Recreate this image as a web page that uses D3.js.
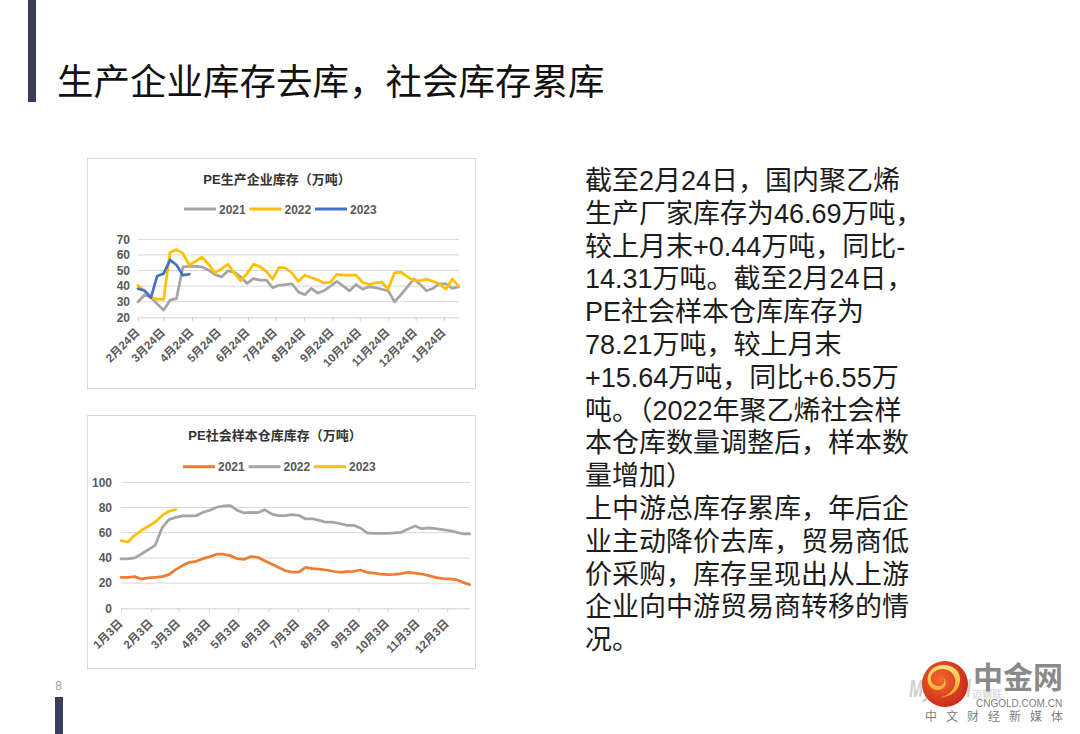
<!DOCTYPE html>
<html>
<head>
<meta charset="utf-8">
<script src="https://cdn.jsdelivr.net/npm/d3@7"></script>
<style>
  body { margin: 0; background: #fff; }
  svg { display: block; }
  text { font-family: "Liberation Sans", "Noto Sans CJK SC", sans-serif; }
</style>
</head>
<body>
<div id="slide"></div>
<script>
// PE生产企业库存 (weekly, from 2月24日)
const INV_START = "2022-02-24";
const INV_END = "2023-02-09";
const INV_2021 = [30, 34.3, 33, 28.5, 24.6, 31, 32, 52.3, 52.7, 52.7, 52.3, 50.2, 47.4, 45.9, 49.7,
                  49, 46, 41.7, 44.8, 43.8, 43.8, 39, 40.5, 41, 41.5, 36.3, 34.5, 38.5, 35.5, 37,
                  40, 43, 40, 37, 41, 38, 39.5, 39, 38, 37, 30, 34.5, 39.5, 44.5, 41, 37, 38.5,
                  41.5, 41.5, 38.5, 39.5];
const INV_2022 = [40.4, 37, 33, 31.6, 31.5, 61.7, 63.4, 61, 53.5, 56, 58.5, 54, 48.5, 51, 54, 48.5,
                  43.5, 48, 54, 52.5, 49.5, 44.5, 52, 51.6, 48.4, 43, 47, 45.5, 44, 42, 42.5, 47.5,
                  47, 47, 47, 42.5, 41, 42, 42.5, 38, 48.5, 49, 46, 43.5, 43.5, 44.5, 43, 41.5,
                  38, 44.5, 40];
const INV_2023 = [38.3, 37.2, 32.5, 46.5, 48, 56.8, 53.5, 47, 47.6];
const INV_Y_TICKS = [20, 30, 40, 50, 60, 70];
const INV_TICK_DATES = ["2022-02-24", "2022-03-24", "2022-04-24", "2022-05-24", "2022-06-24",
                        "2022-07-24", "2022-08-24", "2022-09-24", "2022-10-24", "2022-11-24",
                        "2022-12-24", "2023-01-24"];
const INV_TICK_LABELS = ["2月24日", "3月24日", "4月24日", "5月24日", "6月24日", "7月24日",
                         "8月24日", "9月24日", "10月24日", "11月24日", "12月24日", "1月24日"];

// PE社会样本仓库库存 (weekly, from 1月3日)
const SOC_START = "2021-01-03";
const SOC_END = "2021-12-26";
const SOC_2021 = [24.6, 24.6, 25.1, 23.3, 24.1, 24.6, 25.1, 26.7, 30.7, 33.9, 36.5, 37.3, 39.4, 41,
                  42.9, 42.9, 41.8, 39.4, 38.9, 41, 40.5, 37.8, 35.2, 32.5, 29.9, 28.8, 28.8, 32.5,
                  31.5, 31, 30.4, 29.4, 28.6, 29.1, 29.4, 30.4, 28.6, 28, 27.2, 26.7, 27, 27.5,
                  28.6, 28, 27.2, 25.9, 24.6, 23.5, 23.3, 22.8, 20.6, 18.8];
const SOC_2022 = [39.2, 39.2, 40, 43.1, 46.6, 50, 63.8, 70.4, 72.2, 73.3, 73.3, 73.5, 76.2, 77.8,
                  80.2, 81.2, 81.5, 77.8, 75.7, 76.2, 75.9, 78.3, 74.9, 73.5, 73.5, 74.3, 73.8,
                  70.9, 70.9, 69.8, 68.3, 68.3, 67.2, 65.9, 65.9, 63.8, 59.8, 59.5, 59.5, 59.5,
                  59.8, 60.3, 63, 65.3, 63.2, 63.8, 63.2, 62.4, 61.6, 60.6, 59, 59];
const SOC_2023 = [53.7, 52.6, 57.9, 61.9, 65.1, 68.5, 73.5, 77, 78.3];
const SOC_Y_TICKS = [0, 20, 40, 60, 80, 100];
const SOC_TICK_DATES = ["2021-01-03", "2021-02-03", "2021-03-03", "2021-04-03", "2021-05-03",
                        "2021-06-03", "2021-07-03", "2021-08-03", "2021-09-03", "2021-10-03",
                        "2021-11-03", "2021-12-03"];
const SOC_TICK_LABELS = ["1月3日", "2月3日", "3月3日", "4月3日", "5月3日", "6月3日", "7月3日",
                         "8月3日", "9月3日", "10月3日", "11月3日", "12月3日"];

const SLIDE_TITLE = "生产企业库存去库，社会库存累库";
const BODY_LINES = ["截至2月24日，国内聚乙烯", "生产厂家库存为46.69万吨，", "较上月末+0.44万吨，同比-",
                    "14.31万吨。截至2月24日，", "PE社会样本仓库库存为", "78.21万吨，较上月末",
                    "+15.64万吨，同比+6.55万", "吨。（2022年聚乙烯社会样", "本仓库数量调整后，样本数",
                    "量增加）", "上中游总库存累库，年后企", "业主动降价去库，贸易商低",
                    "价采购，库存呈现出从上游", "企业向中游贸易商转移的情", "况。"];

const GRAY = "#a5a5a5", GOLD = "#ffc000", BLUE = "#4472c4", ORANGE = "#ed7d31";
const NAVY = "#3b3e5b";

var parseDate = d3.timeParse("%Y-%m-%d");

var svg = d3.select("#slide").append("svg")
    .attr("width", 1080)
    .attr("height", 734);

// slide decorations
svg.append("rect").attr("x", 28).attr("y", 0).attr("width", 8).attr("height", 102).attr("fill", NAVY);
svg.append("rect").attr("x", 55).attr("y", 697).attr("width", 8).attr("height", 37).attr("fill", NAVY);
svg.append("text")
    .attr("x", 57).attr("y", 94.5)
    .attr("font-size", 36.5)
    .attr("font-family", "Noto Sans CJK SC")
    .attr("fill", "#111")
    .text(SLIDE_TITLE);
svg.append("text")
    .attr("x", 58.5).attr("y", 690)
    .attr("text-anchor", "middle")
    .attr("font-size", 12)
    .attr("fill", "#a0a0a0")
    .text("8");

// body text
svg.append("g").selectAll("text")
    .data(BODY_LINES)
    .enter()
    .append("text")
      .attr("x", 585)
      .attr("y", function(d, i) { return 190 + i * 32.8; })
      .attr("font-size", 27)
      .attr("fill", "#1c1c1c")
      .text(function(d) { return d; });

function drawChart(cfg) {
  var box = cfg.box;
  svg.append("rect")
      .attr("x", box.x + 0.5).attr("y", box.y + 0.5)
      .attr("width", box.w).attr("height", box.h)
      .attr("fill", "#fff")
      .attr("stroke", "#d9d9d9");

  svg.append("text")
      .attr("x", cfg.titleX).attr("y", cfg.titleY)
      .attr("text-anchor", "middle")
      .attr("font-size", 13)
      .attr("font-weight", "bold")
      .attr("fill", "#333")
      .text(cfg.title);

  // legend
  var leg = svg.append("g");
  cfg.series.forEach(function(s, i) {
    var lx = cfg.legendX + i * 65.5;
    leg.append("line")
        .attr("x1", lx).attr("x2", lx + 32)
        .attr("y1", cfg.legendY).attr("y2", cfg.legendY)
        .attr("stroke", s.color)
        .attr("stroke-width", 3);
    leg.append("text")
        .attr("x", lx + 35).attr("y", cfg.legendY + 4.5)
        .attr("font-size", 12)
        .attr("font-weight", "bold")
        .attr("fill", "#595959")
        .text(s.name);
  });

  var p = cfg.plot;
  var x = d3.scaleTime()
      .domain([parseDate(cfg.start), parseDate(cfg.end)])
      .range([p.left, p.right]);
  var y = d3.scaleLinear()
      .domain(d3.extent(cfg.yTicks))
      .range([p.bottom, p.top]);

  // gridlines
  svg.append("g").selectAll("line")
      .data(cfg.yTicks.slice(1))
      .enter()
      .append("line")
        .attr("x1", p.left).attr("x2", p.right)
        .attr("y1", function(d) { return y(d); })
        .attr("y2", function(d) { return y(d); })
        .attr("stroke", "#d9d9d9")
        .attr("stroke-width", 1);

  var yAxis = svg.append("g")
      .attr("transform", "translate(" + p.left + ",0)")
      .call(d3.axisLeft(y).tickValues(cfg.yTicks).tickSize(0).tickPadding(cfg.yPad));
  yAxis.select(".domain").remove();
  yAxis.selectAll("text")
      .attr("font-size", 12)
      .attr("font-weight", "bold")
      .attr("font-family", "Liberation Sans")
      .attr("fill", "#595959");

  var tickDates = cfg.tickDates.map(parseDate);
  var xAxis = svg.append("g")
      .attr("transform", "translate(0," + p.bottom + ")")
      .call(d3.axisBottom(x)
              .tickValues(tickDates)
              .tickFormat(function(d, i) { return cfg.tickLabels[i]; })
              .tickSize(4)
              .tickSizeOuter(0));
  xAxis.select(".domain").attr("stroke", "#d0d0d0");
  xAxis.selectAll(".tick line").attr("stroke", "#d0d0d0");
  xAxis.selectAll("text")
      .attr("font-size", 11.5)
      .attr("font-weight", "bold")
      .attr("fill", "#595959")
      .style("text-anchor", "end")
      .attr("y", 0)
      .attr("dy", ".35em")
      .attr("transform", "translate(-1,13) rotate(-45)");

  var start = parseDate(cfg.start);
  var line = d3.line()
      .x(function(d, i) { return x(d3.timeDay.offset(start, 7 * i)); })
      .y(function(d) { return y(d); });

  cfg.series.forEach(function(s) {
    svg.append("path")
        .datum(s.values)
        .attr("d", line)
        .attr("fill", "none")
        .attr("stroke", s.color)
        .attr("stroke-width", 2.75)
        .attr("stroke-linejoin", "round")
        .attr("stroke-linecap", "round");
  });
}

drawChart({
  box: {x: 87, y: 158, w: 388, h: 230},
  title: "PE生产企业库存（万吨）",
  titleX: 277, titleY: 183.5,
  legendX: 184, legendY: 209,
  plot: {left: 138, right: 458.7, top: 239.3, bottom: 317.3},
  yPad: 8,
  yTicks: INV_Y_TICKS,
  start: INV_START, end: INV_END,
  tickDates: INV_TICK_DATES, tickLabels: INV_TICK_LABELS,
  series: [
    {name: "2021", color: GRAY, values: INV_2021},
    {name: "2022", color: GOLD, values: INV_2022},
    {name: "2023", color: BLUE, values: INV_2023}
  ]
});

drawChart({
  box: {x: 87, y: 415, w: 388, h: 253},
  title: "PE社会样本仓库库存（万吨）",
  titleX: 275, titleY: 440,
  legendX: 183, legendY: 466.7,
  plot: {left: 121, right: 469.7, top: 482.3, bottom: 608.3},
  yPad: 9,
  yTicks: SOC_Y_TICKS,
  start: SOC_START, end: SOC_END,
  tickDates: SOC_TICK_DATES, tickLabels: SOC_TICK_LABELS,
  series: [
    {name: "2021", color: ORANGE, values: SOC_2021},
    {name: "2022", color: GRAY, values: SOC_2022},
    {name: "2023", color: GOLD, values: SOC_2023}
  ]
});

// logo, bottom right
var defs = svg.append("defs");
var grad = defs.append("radialGradient").attr("id", "logoRed").attr("cx", "40%").attr("cy", "40%").attr("r", "65%");
grad.append("stop").attr("offset", "0%").attr("stop-color", "#f26a2c");
grad.append("stop").attr("offset", "100%").attr("stop-color", "#c9261b");
var gold = defs.append("linearGradient").attr("id", "logoGold").attr("x1", "0").attr("y1", "0").attr("x2", "0").attr("y2", "1");
gold.append("stop").attr("offset", "0%").attr("stop-color", "#ffe27a");
gold.append("stop").attr("offset", "100%").attr("stop-color", "#f4a21e");

// faint watermark behind the logo
svg.append("text")
    .attr("x", 909).attr("y", 697)
    .attr("font-size", 24)
    .attr("font-weight", "bold")
    .attr("font-style", "italic")
    .attr("textLength", 62)
    .attr("lengthAdjust", "spacingAndGlyphs")
    .attr("fill", "#d0d0d0")
    .text("Mysteel");
svg.append("text")
    .attr("x", 972).attr("y", 698)
    .attr("font-size", 10)
    .attr("font-weight", "bold")
    .attr("fill", "#dcdcdc")
    .attr("font-family", "Noto Sans CJK SC")
    .text("迈钢联");
svg.append("circle").attr("cx", 945).attr("cy", 684).attr("r", 23).attr("fill", "url(#logoRed)");
svg.append("path")
    .attr("d", "M934,697 C946,699 957,690 955,679 C953,669 941,666 934,672 C928,677 931,686 939,686 C944,686 946,681 943,678 " +
               "C947,680 947,689 939,690 C930,691 925,681 929,673 C934,663 951,662 958,672 C964,682 957,700 934,697 Z")
    .attr("fill", "url(#logoGold)");
svg.append("text")
    .attr("x", 973).attr("y", 688)
    .attr("font-size", 30)
    .attr("font-weight", "bold")
    .attr("font-family", "Noto Sans CJK SC")
    .attr("fill", "#8a8a8a")
    .text("中金网");
svg.append("text")
    .attr("x", 976).attr("y", 707)
    .attr("font-size", 10)
    .attr("fill", "#808080")
    .text("CNGOLD.COM.CN");
svg.append("text")
    .attr("x", 925).attr("y", 721)
    .attr("font-size", 12)
    .attr("letter-spacing", 9)
    .attr("font-family", "Noto Sans CJK SC")
    .attr("fill", "#808080")
    .text("中文财经新媒体");
</script>
</body>
</html>
